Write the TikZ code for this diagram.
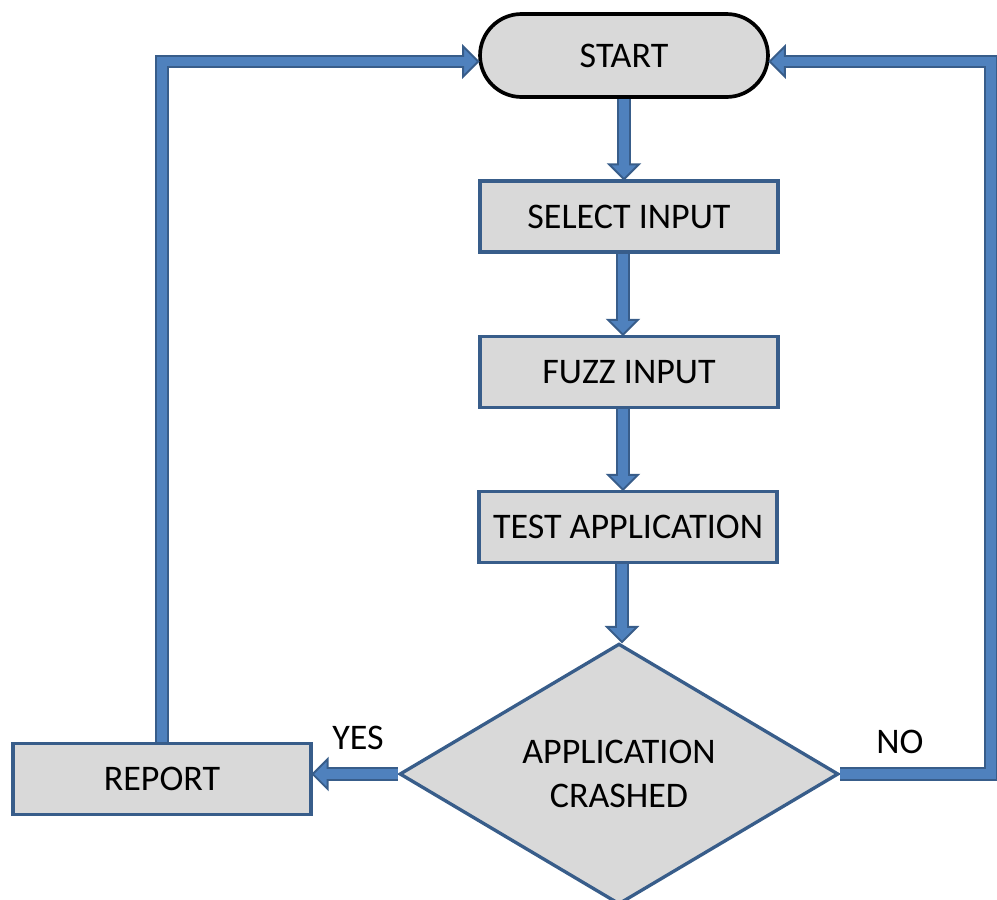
\documentclass[tikz,border=0pt]{standalone}
\usepackage{fontspec}
\setmainfont{Carlito}
\usetikzlibrary{shapes.geometric,calc}
\definecolor{boxfill}{HTML}{D9D9D9}
\definecolor{boxline}{HTML}{385D8A}
\definecolor{arrfill}{HTML}{4F81BD}
\definecolor{arrline}{HTML}{385D8A}
\tikzset{
  label font/.style={font=\fontsize{20.5}{25}\selectfont},
  stepbox/.style={draw=boxline, line width=1.9pt, fill=boxfill,
    minimum width=5.96cm, minimum height=1.42cm, inner sep=0, label font},
  terminal/.style={draw=black, line width=2.1pt, fill=boxfill,
    rounded corners=0.83cm, minimum width=5.76cm, minimum height=1.66cm,
    inner sep=0, label font},
  decision/.style={diamond, draw=boxline, line width=1.9pt, fill=boxfill,
    minimum width=8.78cm, minimum height=4.98cm, inner sep=0, align=center,
    label font},
  shaftout/.style={draw=arrline, line width=0.28cm, line join=miter},
  shaftin/.style={draw=arrfill, line width=0.2cm, line join=miter},
  headstyle/.style={draw=arrline, fill=arrfill, line width=1.1pt, line join=miter},
}
% block arrow: #1 shaft path up to the last corner, #2 last corner, #3 tip
\newcommand\blockarrow[3]{%
  \draw[shaftout] #1 -- ($(#3)!0.28cm!(#2)$);
  \filldraw[headstyle] ($($(#3)!0.3cm!(#2)$)!0.3cm!90:(#3)$) -- (#3)
    -- ($($(#3)!0.3cm!(#2)$)!0.3cm!-90:(#3)$) -- cycle;
  \draw[shaftin] #1 -- ($(#3)!0.25cm!(#2)$);}
\begin{document}
\begin{tikzpicture}[x=0.02cm, y=-0.02cm]
\useasboundingbox (0,0) rectangle (997,899);

% nodes
\node[terminal] (start) at (624,55.5) {START};
\node[stepbox] (sel) at (629,216.5) {SELECT INPUT};
\node[stepbox] (fuzz) at (629,372) {FUZZ INPUT};
\node[stepbox] (test) at (628,527) {TEST APPLICATION};
\node[decision] (dia) at (619,774) {APPLICATION\\CRASHED};
\node[stepbox] (rep) at (162,779) {REPORT};

\node[label font] (yes) at (358,738) {YES};
\node[label font] (no) at (900,742) {NO};

% main chain
\coordinate (a1) at (start.south |- sel.north);
\blockarrow{(start.south)}{start.south}{a1}

\coordinate (b0) at ($(sel.south)+(-6,0)$);
\coordinate (b1) at (b0 |- fuzz.north);
\blockarrow{(b0)}{b0}{b1}

\coordinate (d0) at ($(fuzz.south)+(-6,0)$);
\coordinate (d1) at (d0 |- test.north);
\blockarrow{(d0)}{d0}{d1}

\coordinate (e0) at ($(test.south)+(-6,0)$);
\coordinate (e1) at (e0 |- dia.north);
\blockarrow{(e0)}{e0}{e1}

% YES branch
\coordinate (y1) at (dia.west -| rep.east);
\blockarrow{(dia.west)}{dia.west}{y1}

% REPORT back to START
\coordinate (t1) at ($(start.west)+(0,6)$);
\coordinate (c1) at (rep.north |- t1);
\blockarrow{(rep.north) -- (c1)}{c1}{t1}

% NO branch back to START
\coordinate (t2) at ($(start.east)+(0,6)$);
\coordinate (c3) at (dia.east -| 991,0);
\coordinate (c4) at (c3 |- t2);
\blockarrow{(dia.east) -- (c3) -- (c4)}{c4}{t2}
\end{tikzpicture}
\end{document}
